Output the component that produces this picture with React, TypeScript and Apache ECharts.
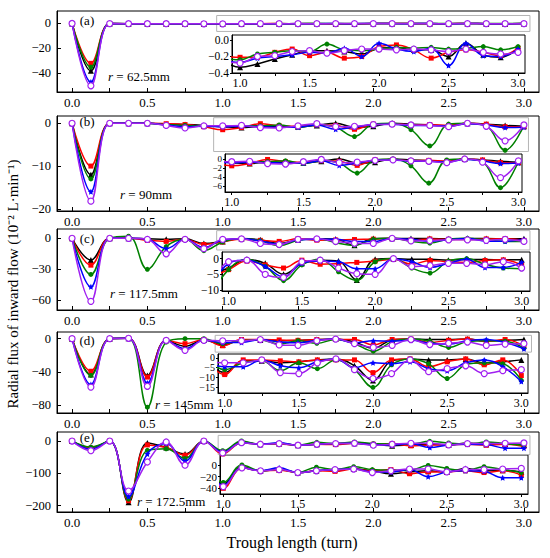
import React, { useEffect, useRef } from "react";
import * as echarts from "echarts";

// ---------------- DATA ----------------
const TURNS = [0, 0.125, 0.25, 0.375, 0.5, 0.625, 0.75, 0.875, 1, 1.125, 1.25, 1.375, 1.5, 1.625, 1.75, 1.875, 2, 2.125, 2.25, 2.375, 2.5, 2.625, 2.75, 2.875, 3];

const A_BLACK = [0, -38, -0.1, -0.2, -0.2, -0.2, -0.2, -0.25, -0.33, -0.29, -0.23, -0.18, -0.13, -0.13, -0.14, -0.17, -0.1, -0.09, -0.12, -0.12, -0.2, -0.04, -0.18, -0.21, -0.1];
const A_RED = [0, -32, -0.1, -0.2, -0.2, -0.2, -0.2, -0.2, -0.21, -0.21, -0.15, -0.11, -0.19, -0.15, -0.22, -0.2, -0.08, -0.06, -0.12, -0.22, -0.15, -0.12, -0.15, -0.19, -0.1];
const A_GREEN = [0, -35, -0.1, -0.2, -0.2, -0.2, -0.2, -0.22, -0.24, -0.17, -0.15, -0.13, -0.14, -0.05, -0.12, -0.13, -0.11, -0.09, -0.1, -0.09, -0.11, -0.1, -0.08, -0.12, -0.08];
const A_BLUE = [0, -47, -0.1, -0.2, -0.2, -0.2, -0.2, -0.25, -0.27, -0.22, -0.2, -0.18, -0.15, -0.16, -0.1, -0.2, -0.04, -0.11, -0.14, -0.1, -0.31, -0.04, -0.19, -0.2, -0.11];
const A_VIOLET = [0, -50, -0.1, -0.2, -0.2, -0.2, -0.2, -0.25, -0.28, -0.2, -0.19, -0.14, -0.13, -0.16, -0.13, -0.11, -0.11, -0.12, -0.11, -0.12, -0.14, -0.11, -0.15, -0.17, -0.15];

const B_BLACK = [0, -12, 0, 0, 0, -0.2, -0.3, -0.5, -0.8, -1.0, -0.7, -0.8, -0.8, -0.5, 0, -0.9, -0.7, 0, -0.2, -0.4, -0.6, 0, -0.2, -0.5, -0.7];
const B_RED = [0, -10, 0, 0, 0, -0.1, -0.3, -0.8, -1.5, -1.0, -0.1, -0.6, -0.7, -0.4, -0.5, -1.4, -0.2, -0.1, -0.4, -0.3, -0.5, 0, -0.2, -0.8, -0.8];
const B_GREEN = [0, -13, 0, 0, 0, -0.3, -0.5, -0.6, -0.7, -0.6, -0.6, -0.4, -1.0, -0.4, -0.9, -3.1, -0.2, 0, -1.5, -5.3, -0.2, 0, -0.6, -6.3, -0.5];
const B_BLUE = [0, -16, 0, 0, 0, -0.4, -0.8, -0.7, -0.8, -0.7, -0.8, -0.9, -0.9, -0.4, -1.4, -0.9, -0.3, -0.2, -0.5, -0.5, -0.7, -0.1, -0.4, -1.0, -0.9];
const B_VIOLET = [0, -18.2, 0, 0, 0, -0.5, -1.1, -0.6, -0.6, -0.5, -1.0, -1.1, -0.6, -0.1, -0.8, -0.7, -0.3, -0.2, -0.4, -0.5, -0.8, 0, -0.7, -4.1, -0.4];

const C_BLACK = [0, -21, 0, 0, -0.5, -1, -0.5, -5, -3.0, -0.3, -1.5, -5.0, -1.5, -0.5, -0.8, -6.8, -0.2, 0, -0.2, -0.2, -0.5, -0.3, -0.3, -0.4, -0.4];
const C_RED = [0, -26, 0, 0, -2, -3, -1, -6, -3.5, -0.8, -2.0, -3.0, -0.5, -1.8, -1.6, -1.2, -0.8, -0.2, -1.8, -0.6, -1.0, -1.2, -0.6, -0.4, -2.0];
const C_GREEN = [0, -35, 0, 2, -30, -8, -1, -12, -3.5, -0.2, -2.5, -7.0, -2.0, -0.2, -4.2, -6.9, -1.0, 0, -3.0, -4.6, -0.8, 0, -1.8, -3.0, -3.2];
const C_BLUE = [0, -47, 0, 0, -1, -10, -1, -9, -1.6, -0.5, -2.5, -5.8, -1.5, -0.8, -1.0, -3.2, -3.2, -0.1, -1.0, -2.8, -1.5, -0.2, -2.8, -2.8, -1.2];
const C_VIOLET = [0, -61, 0, 0, -1, -15, -1, -10, -1.0, -0.5, -5.0, -6.0, -1.0, -0.5, -3.0, -4.8, -5.0, 0, -2.5, -2.2, -1.5, -1.5, -2.0, -1.0, -3.0];

const D_BLACK = [0, -43, 0, 0.5, -44, -2, -9, -1.5, -7.5, -1.5, -1.5, -2.5, -2.0, -1.0, -0.5, -4.0, -11.5, -1.5, -0.5, -1.0, -1.0, -0.5, -2.5, -2.0, -1.0];
const D_RED = [0, -39, 0, 0.5, -46, -2, -6, -1, -8.5, -1.0, -1.0, -1.5, -2.0, -1.0, -1.0, -1.0, -7.5, -1.0, -0.5, -4.5, -2.0, -0.5, -3.5, -1.0, -9.0];
const D_GREEN = [0, -44, 0, 0.5, -82, -4, 0, 0, -6.0, -2.5, -1.5, -6.5, -2.5, -5.5, -1.0, -6.0, -15.0, -3.5, -0.5, -3.0, -10.5, -3.5, -2.5, -3.0, -11.5];
const D_BLUE = [0, -55, 0, 0.5, -53, -2, -12, -2, -4.5, -4.5, -1.0, -4.0, -5.0, -2.0, -0.5, -5.0, -2.5, -3.0, -2.0, -5.5, -6.5, -2.5, -1.0, -4.5, -12.0];
const D_VIOLET = [0, -58, 0, 0.5, -57, -2, -14, -2, -2.5, -2.5, -1.0, -7.5, -8.0, -2.5, -0.5, -6.0, -10.5, -8.0, -1.0, -7.0, -5.5, -4.0, -8.0, -6.5, -6.0];

const E_BLACK = [0, -20, 0, -190, -6, -20, -40, 0, -33, -3, -10, -8, -13, -10, -8, -7, -10, -15, -12, -10, -12, -6, -10, -9, -12];
const E_RED = [0, -22, 0, -185, -12, -20, -44, 0, -40, -5, -10, -9, -13, -10, -11, -7, -10, -8, -15, -12, -12, -10, -13, -10, -17];
const E_GREEN = [0, -19, 0, -180, -29, -24, -54, 0, -30, 0, -10, -7, -13, -4, -8, -3, -8, -9, -9, -1, -6, -10, -3, -8, -13];
const E_BLUE = [0, -25, 0, -172, -40, -8, -62, 0, -35, -5, -10, -5, -13, -10, -8, -7, -12, -12, -8, -20, -12, -10, -11, -22, -22];
const E_VIOLET = [0, -30, 0, -155, -65, -3, -75, 0, -37, -5, -10, -8, -13, -10, -8, -7, -13, -10, -7, -7, -12, -8, -8, -7, -6];

const PANELS = [
  [A_BLACK, A_RED, A_GREEN, A_BLUE, A_VIOLET],
  [B_BLACK, B_RED, B_GREEN, B_BLUE, B_VIOLET],
  [C_BLACK, C_RED, C_GREEN, C_BLUE, C_VIOLET],
  [D_BLACK, D_RED, D_GREEN, D_BLUE, D_VIOLET],
  [E_BLACK, E_RED, E_GREEN, E_BLUE, E_VIOLET],
];

const PANEL_LETTERS = ["(a)", "(b)", "(c)", "(d)", "(e)"];
const RADII = ["62.5mm", "90mm", "117.5mm", "145mm", "172.5mm"];

const MAIN_X_LABELS = [0, 0.5, 1, 1.5, 2, 2.5, 3];
const MAIN_X_TICKS = [0, 0.25, 0.5, 0.75, 1, 1.25, 1.5, 1.75, 2, 2.25, 2.5, 2.75, 3];
const INSET_X_LABELS = [1, 1.5, 2, 2.5, 3];
const INSET_X_TICKS = [1, 1.25, 1.5, 1.75, 2, 2.25, 2.5, 2.75, 3];
const MAIN_Y_LABELS = [[-40, -20, 0], [-20, -10, 0], [-60, -30, 0], [-80, -40, 0], [-200, -100, 0]];
const INSET_Y_LABELS = [[-0.4, -0.2, 0], [-6, -4, -2, 0], [-10, -5, 0], [-15, -10, -5, 0], [-40, -20, 0]];

// ---------------- LAYOUT / STYLE ----------------
const FONT = "Liberation Serif";
const GRID_LEFT = 57;
const GRID_WIDTH = 482;
const MAIN_TOPS = [11, 116, 229, 332, 432];
const MAIN_HEIGHTS = [81, 95, 81, 81, 80];
const MAIN_X_RANGE = [-0.1, 3.1];
const MAIN_Y_RANGES = [[-55, 10], [-20.5, 1.7], [-69.4, 9], [-89, 8], [-220, 28]];
const INSET_BOXES = [
  { left: 232, top: 35, width: 293, height: 38 },
  { left: 225, top: 154, width: 297, height: 38 },
  { left: 222, top: 252, width: 308, height: 39 },
  { left: 218, top: 354, width: 310, height: 39 },
  { left: 220, top: 455, width: 308, height: 39 },
];
const INSET_X_RANGES = [[0.942, 3.05], [0.953, 3.025], [0.955, 3.057], [0.955, 3.045], [0.978, 3.045]];
const INSET_Y_RANGES = [[-0.4, 0.06], [-7.25, 1.1], [-10.3, 2.1], [-17.9, 2.0], [-49.7, 17]];
const INSET_Y_FONT = [11.5, 9, 11.5, 10, 11];
const ZOOM_RECTS = [
  [0.96, 6.4, 3.04, -6.4],
  [0.94, 1.3, 3.03, -6.6],
  [0.96, 7.4, 3.04, -11.3],
  [0.95, 4, 3.05, -16.1],
  [0.97, 17.5, 3.04, -42],
];
const LETTER_POS = [[87, 20], [87, 121], [87, 238], [87, 340], [87, 437]];
const RADIUS_POS = [[108, 76], [120, 194], [110, 293], [155, 404], [137, 501]];

const STAR = "path://M0,-10L2.9,-4L9.5,-3.1L4.7,1.5L5.9,8.1L0,5L-5.9,8.1L-4.7,1.5L-9.5,-3.1L-2.9,-4Z";
const SERIES_STYLES = [
  { color: "#000000", symbol: "triangle", size: 6, hollow: false },
  { color: "#ff0000", symbol: "rect", size: 5, hollow: false },
  { color: "#008000", symbol: "circle", size: 5, hollow: false },
  { color: "#0000ff", symbol: STAR, size: 6, hollow: false },
  { color: "#a020f0", symbol: "circle", size: 6, hollow: true },
];

const minus = (s: string) => s.replace("-", "\u2212");

function insetYAxis(p: number, labels: number[], primary: boolean) {
  return {
    type: "value", gridIndex: 5 + p, position: "left", offset: 0,
    min: INSET_Y_RANGES[p][0], max: INSET_Y_RANGES[p][1],
    axisLine: { show: primary, onZero: false, lineStyle: { color: "#000", width: 1 } },
    axisTick: { show: primary, inside: false, length: 2, customValues: INSET_Y_LABELS[p], lineStyle: { color: "#000" } },
    axisLabel: {
      customValues: labels, margin: 3, color: "#000", fontFamily: FONT, fontSize: INSET_Y_FONT[p],
      lineHeight: 9, showMinLabel: true, showMaxLabel: true,
      formatter: (v: number) => minus(p === 0 ? v.toFixed(1) : String(v)),
    },
    splitLine: { show: false },
  };
}

function buildOption() {
  const grid: any[] = [];
  const xAxis: any[] = [];
  const yAxis: any[] = [];
  const series: any[] = [];

  for (let p = 0; p < 5; p++) {
    grid.push({
      left: GRID_LEFT, top: MAIN_TOPS[p], width: GRID_WIDTH, height: MAIN_HEIGHTS[p],
      show: true, borderColor: "#000", borderWidth: 1, backgroundColor: "transparent",
    });
  }
  for (let p = 0; p < 5; p++) {
    grid.push({
      ...INSET_BOXES[p], show: true, borderColor: "#000", borderWidth: 1, backgroundColor: "#fff",
    });
  }

  for (let p = 0; p < 5; p++) {
    xAxis.push({
      type: "value", gridIndex: p, min: MAIN_X_RANGE[0], max: MAIN_X_RANGE[1],
      axisLine: { show: true, onZero: false, lineStyle: { color: "#000", width: 1 } },
      axisTick: { show: true, inside: true, length: 4, customValues: MAIN_X_TICKS, lineStyle: { color: "#000" } },
      axisLabel: {
        customValues: MAIN_X_LABELS, margin: 4, color: "#000", fontFamily: FONT, fontSize: 13,
        showMinLabel: true, showMaxLabel: true,
        formatter: (v: number) => v.toFixed(1),
      },
      splitLine: { show: false },
    });
    yAxis.push({
      type: "value", gridIndex: p, position: "left", min: MAIN_Y_RANGES[p][0], max: MAIN_Y_RANGES[p][1],
      axisLine: { show: true, onZero: false, lineStyle: { color: "#000", width: 1 } },
      axisTick: { show: true, inside: true, length: 4, customValues: MAIN_Y_LABELS[p], lineStyle: { color: "#000" } },
      axisLabel: {
        customValues: MAIN_Y_LABELS[p], margin: 6, color: "#000", fontFamily: FONT, fontSize: 12.5,
        showMinLabel: true, showMaxLabel: true,
        formatter: (v: number) => minus(String(v)),
      },
      splitLine: { show: false },
    });
  }
  for (let p = 0; p < 5; p++) {
    xAxis.push({
      type: "value", gridIndex: 5 + p, min: INSET_X_RANGES[p][0], max: INSET_X_RANGES[p][1],
      axisLine: { show: true, onZero: false, lineStyle: { color: "#000", width: 1 } },
      axisTick: { show: true, inside: false, length: 3, customValues: INSET_X_TICKS, lineStyle: { color: "#000" } },
      axisLabel: {
        customValues: INSET_X_LABELS, margin: 4, color: "#000", fontFamily: FONT, fontSize: 12,
        showMinLabel: true, showMaxLabel: true,
        formatter: (v: number) => v.toFixed(1),
      },
      splitLine: { show: false },
    });
    // alternate labels are split over two coincident left axes so that neighbouring labels are not auto-hidden
    const labels = INSET_Y_LABELS[p];
    yAxis.push(insetYAxis(p, labels.filter((_, i) => i % 2 === 0), true));
  }
  for (let p = 0; p < 5; p++) {
    const labels = INSET_Y_LABELS[p];
    yAxis.push(insetYAxis(p, labels.filter((_, i) => i % 2 === 1), false));
  }

  for (let p = 0; p < 5; p++) {
    for (let s = 0; s < 5; s++) {
      const st = SERIES_STYLES[s];
      const data = TURNS.map((t, i) => [t, PANELS[p][s][i]]);
      const common = {
        type: "line",
        smooth: 0.4,
        symbol: st.symbol,
        symbolSize: st.size,
        showSymbol: true,
        silent: true,
        z: 2 + s,
        lineStyle: { color: st.color, width: 1.5 },
        itemStyle: {
          color: st.hollow ? "#ffffff" : st.color,
          borderColor: st.color,
          borderWidth: st.hollow ? 1.2 : 0,
        },
        emphasis: { disabled: true },
      };
      const main: any = { ...common, xAxisIndex: p, yAxisIndex: p, data };
      if (s === 0) {
        const r = ZOOM_RECTS[p];
        main.markArea = {
          silent: true,
          itemStyle: { color: "rgba(0,0,0,0)", borderColor: "#b4b4b4", borderWidth: 1 },
          data: [[{ coord: [r[0], r[1]] }, { coord: [r[2], r[3]] }]],
        };
      }
      series.push(main);
      series.push({ ...common, xAxisIndex: 5 + p, yAxisIndex: 5 + p, data: data.slice(7) });
    }
  }

  const graphic: any[] = [];
  for (let p = 0; p < 5; p++) {
    graphic.push({
      type: "text", x: LETTER_POS[p][0], y: LETTER_POS[p][1], silent: true, z: 50,
      style: {
        text: PANEL_LETTERS[p], fontFamily: FONT, fontSize: 13, fill: "#000",
        align: "center", verticalAlign: "middle", textAlign: "center", textVerticalAlign: "middle",
      },
    });
    graphic.push({
      type: "text", x: RADIUS_POS[p][0], y: RADIUS_POS[p][1], silent: true, z: 50,
      style: {
        text: "{i|r} = " + RADII[p], fontFamily: FONT, fontSize: 13, fill: "#000",
        verticalAlign: "middle", textVerticalAlign: "middle",
        rich: { i: { fontFamily: FONT, fontSize: 13, fontStyle: "italic", fill: "#000" } },
      },
    });
  }
  graphic.push({
    type: "text", x: 292, y: 542, silent: true,
    style: {
      text: "Trough length (turn)", fontFamily: FONT, fontSize: 16, fill: "#000",
      align: "center", verticalAlign: "middle", textAlign: "center", textVerticalAlign: "middle",
    },
  });
  graphic.push({
    type: "text", x: 13, y: 284, rotation: Math.PI / 2, silent: true,
    style: {
      text: "Radial flux of inward flow (10\u207B\u00B2 L\u00B7min\u207B\u00B9)", fontFamily: FONT, fontSize: 15, fill: "#000",
      align: "center", verticalAlign: "middle", textAlign: "center", textVerticalAlign: "middle",
    },
  });

  return {
    animation: false,
    backgroundColor: "#ffffff",
    grid, xAxis, yAxis, series, graphic,
  };
}

export default function App() {
  const ref = useRef<HTMLDivElement>(null);
  useEffect(() => {
    document.body.style.margin = "0";
    if (!ref.current) return;
    const chart = echarts.init(ref.current, null, { renderer: "svg" });
    chart.setOption(buildOption() as any);
    return () => chart.dispose();
  }, []);
  return <div ref={ref} style={{ width: 550, height: 558 }} />;
}
